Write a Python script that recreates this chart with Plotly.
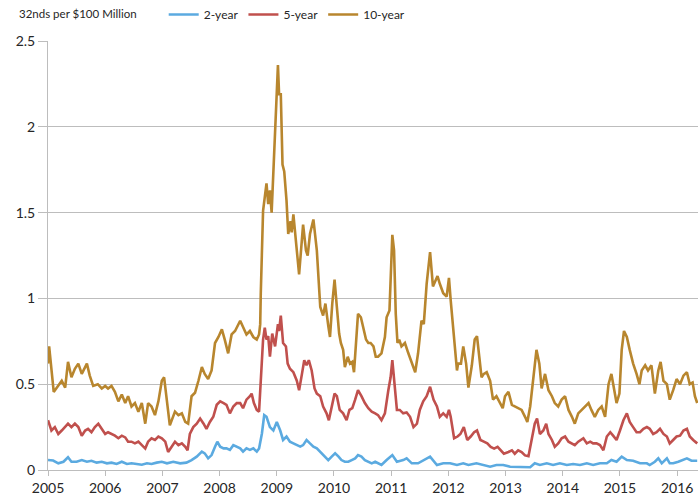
import plotly.graph_objects as go

# ---- data (decimal years, value in 32nds per $100 million) ----
t2 = [2005.00, 2005.09, 2005.18, 2005.27, 2005.35, 2005.41, 2005.50, 2005.59, 2005.68, 2005.76,
      2005.85, 2005.94, 2006.03, 2006.11, 2006.20, 2006.29, 2006.38, 2006.46, 2006.55, 2006.64,
      2006.73, 2006.81, 2006.90, 2006.99, 2007.08, 2007.19, 2007.31, 2007.42, 2007.51, 2007.60,
      2007.69, 2007.74, 2007.80, 2007.86, 2007.92, 2007.96, 2008.01, 2008.07, 2008.12, 2008.18,
      2008.24, 2008.30, 2008.36, 2008.41, 2008.47, 2008.53, 2008.59, 2008.65, 2008.69, 2008.74,
      2008.78, 2008.82, 2008.88, 2008.94, 2009.00, 2009.06, 2009.11, 2009.17, 2009.23, 2009.29,
      2009.35, 2009.41, 2009.46, 2009.52, 2009.58, 2009.64, 2009.70, 2009.73, 2009.78, 2009.84,
      2009.90, 2009.96, 2010.02, 2010.08, 2010.13, 2010.19, 2010.25, 2010.31, 2010.37, 2010.42,
      2010.48, 2010.54, 2010.60, 2010.66, 2010.72, 2010.77, 2010.83, 2010.92, 2011.02, 2011.10,
      2011.21, 2011.27, 2011.36, 2011.47, 2011.56, 2011.68, 2011.80, 2011.91, 2012.03, 2012.15,
      2012.26, 2012.35, 2012.49, 2012.61, 2012.73, 2012.84, 2012.96, 2013.08, 2013.19, 2013.31,
      2013.43, 2013.51, 2013.60, 2013.72, 2013.83, 2013.95, 2014.07, 2014.18, 2014.30, 2014.42,
      2014.53, 2014.65, 2014.77, 2014.85, 2014.94, 2015.03, 2015.12, 2015.23, 2015.35, 2015.47,
      2015.52, 2015.61, 2015.67, 2015.73, 2015.82, 2015.87, 2015.93, 2016.02, 2016.11, 2016.17,
      2016.25, 2016.35]
v2 = [0.058, 0.055, 0.039, 0.048, 0.074, 0.048, 0.048, 0.058, 0.048, 0.054,
      0.043, 0.048, 0.039, 0.043, 0.035, 0.048, 0.035, 0.039, 0.035, 0.031,
      0.039, 0.035, 0.043, 0.048, 0.039, 0.048, 0.039, 0.043, 0.058, 0.078,
      0.107, 0.097, 0.068, 0.087, 0.136, 0.165, 0.136, 0.126, 0.126, 0.117,
      0.145, 0.136, 0.126, 0.107, 0.126, 0.117, 0.126, 0.107, 0.126, 0.213,
      0.320, 0.310, 0.250, 0.230, 0.280, 0.230, 0.175, 0.195, 0.165, 0.155,
      0.145, 0.136, 0.145, 0.175, 0.155, 0.136, 0.126, 0.116, 0.097, 0.078,
      0.058, 0.078, 0.097, 0.078, 0.058, 0.048, 0.048, 0.058, 0.068, 0.087,
      0.078, 0.058, 0.048, 0.039, 0.048, 0.039, 0.029, 0.058, 0.087, 0.048,
      0.058, 0.068, 0.039, 0.039, 0.054, 0.078, 0.029, 0.039, 0.039, 0.029,
      0.039, 0.029, 0.039, 0.029, 0.019, 0.029, 0.029, 0.019, 0.019, 0.019,
      0.016, 0.039, 0.029, 0.039, 0.029, 0.039, 0.029, 0.035, 0.029, 0.039,
      0.029, 0.039, 0.039, 0.058, 0.048, 0.078, 0.058, 0.054, 0.039, 0.039,
      0.029, 0.048, 0.068, 0.039, 0.068, 0.039, 0.039, 0.048, 0.058, 0.068,
      0.054, 0.054]

t5 = [2005.00, 2005.06, 2005.12, 2005.18, 2005.24, 2005.30, 2005.35, 2005.41, 2005.47, 2005.53,
      2005.59, 2005.65, 2005.70, 2005.76, 2005.82, 2005.88, 2005.94, 2006.00, 2006.05, 2006.11,
      2006.17, 2006.23, 2006.29, 2006.35, 2006.40, 2006.46, 2006.52, 2006.58, 2006.64, 2006.70,
      2006.75, 2006.81, 2006.87, 2006.93, 2006.99, 2007.05, 2007.10, 2007.16, 2007.22, 2007.28,
      2007.34, 2007.40, 2007.44, 2007.48, 2007.54, 2007.60, 2007.66, 2007.72, 2007.77, 2007.83,
      2007.89, 2007.95, 2008.01, 2008.07, 2008.12, 2008.18, 2008.24, 2008.30, 2008.36, 2008.41,
      2008.47, 2008.53, 2008.56, 2008.60, 2008.65, 2008.69, 2008.72, 2008.76, 2008.79, 2008.82,
      2008.85, 2008.88, 2008.92, 2008.97, 2009.02, 2009.04, 2009.07, 2009.11, 2009.16, 2009.19,
      2009.23, 2009.29, 2009.35, 2009.39, 2009.44, 2009.48, 2009.52, 2009.56, 2009.61, 2009.66,
      2009.70, 2009.76, 2009.81, 2009.87, 2009.91, 2009.96, 2010.01, 2010.05, 2010.10, 2010.16,
      2010.22, 2010.27, 2010.32, 2010.37, 2010.42, 2010.48, 2010.54, 2010.60, 2010.66, 2010.72,
      2010.77, 2010.83, 2010.89, 2010.95, 2010.99, 2011.02, 2011.05, 2011.10, 2011.15, 2011.21,
      2011.27, 2011.33, 2011.39, 2011.45, 2011.50, 2011.56, 2011.62, 2011.68, 2011.74, 2011.80,
      2011.85, 2011.91, 2011.97, 2012.01, 2012.04, 2012.10, 2012.16, 2012.21, 2012.27, 2012.33,
      2012.39, 2012.45, 2012.50, 2012.56, 2012.62, 2012.68, 2012.74, 2012.80, 2012.86, 2012.91,
      2012.97, 2013.05, 2013.11, 2013.16, 2013.22, 2013.28, 2013.34, 2013.40, 2013.46, 2013.51,
      2013.55, 2013.60, 2013.66, 2013.71, 2013.75, 2013.81, 2013.86, 2013.92, 2013.98, 2014.04,
      2014.10, 2014.16, 2014.21, 2014.27, 2014.36, 2014.42, 2014.48, 2014.53, 2014.59, 2014.65,
      2014.71, 2014.77, 2014.83, 2014.88, 2014.94, 2015.00, 2015.06, 2015.12, 2015.17, 2015.23,
      2015.29, 2015.35, 2015.41, 2015.47, 2015.52, 2015.58, 2015.64, 2015.70, 2015.76, 2015.82,
      2015.87, 2015.93, 2015.99, 2016.05, 2016.11, 2016.17, 2016.22, 2016.28, 2016.35]
v5 = [0.29, 0.23, 0.25, 0.21, 0.23, 0.25, 0.27, 0.25, 0.27, 0.25,
      0.20, 0.23, 0.24, 0.22, 0.25, 0.27, 0.24, 0.21, 0.22, 0.21,
      0.20, 0.185, 0.20, 0.19, 0.165, 0.165, 0.155, 0.165, 0.145, 0.125,
      0.165, 0.185, 0.175, 0.195, 0.185, 0.165, 0.105, 0.135, 0.165, 0.145,
      0.155, 0.135, 0.115, 0.21, 0.25, 0.27, 0.30, 0.27, 0.24, 0.28,
      0.31, 0.38, 0.40, 0.39, 0.38, 0.33, 0.37, 0.39, 0.39, 0.36,
      0.41, 0.43, 0.445, 0.39, 0.35, 0.34, 0.56, 0.76, 0.83, 0.76,
      0.78, 0.66, 0.795, 0.72, 0.85, 0.81, 0.90, 0.74, 0.72, 0.62,
      0.59, 0.57, 0.52, 0.465, 0.56, 0.64, 0.61, 0.64, 0.58, 0.475,
      0.445, 0.43, 0.37, 0.33, 0.29, 0.37, 0.445, 0.43, 0.35, 0.33,
      0.29, 0.35, 0.36, 0.41, 0.465, 0.43, 0.39, 0.36, 0.34, 0.33,
      0.32, 0.29, 0.33, 0.465, 0.54, 0.64, 0.54, 0.35, 0.35, 0.33,
      0.335, 0.31, 0.25, 0.27, 0.35, 0.40, 0.43, 0.485, 0.41, 0.37,
      0.31, 0.33, 0.31, 0.35, 0.31, 0.185, 0.195, 0.21, 0.25, 0.175,
      0.195, 0.22, 0.23, 0.175, 0.165, 0.155, 0.135, 0.125, 0.135, 0.115,
      0.095, 0.105, 0.115, 0.095, 0.115, 0.105, 0.085, 0.08, 0.175, 0.27,
      0.30, 0.21, 0.23, 0.27, 0.21, 0.175, 0.135, 0.155, 0.185, 0.195,
      0.165, 0.155, 0.145, 0.165, 0.185, 0.155, 0.165, 0.155, 0.155, 0.145,
      0.115, 0.195, 0.22, 0.20, 0.175, 0.23, 0.29, 0.33, 0.28, 0.25,
      0.22, 0.22, 0.24, 0.25, 0.24, 0.21, 0.22, 0.24, 0.21, 0.195,
      0.155, 0.175, 0.195, 0.20, 0.23, 0.24, 0.195, 0.175, 0.155]

t10 = [2005.00, 2005.02, 2005.10, 2005.18, 2005.24, 2005.30, 2005.35, 2005.41, 2005.47, 2005.53,
       2005.59, 2005.68, 2005.73, 2005.79, 2005.87, 2005.94, 2006.00, 2006.05, 2006.11, 2006.17,
       2006.23, 2006.29, 2006.35, 2006.40, 2006.46, 2006.52, 2006.58, 2006.64, 2006.70, 2006.75,
       2006.81, 2006.87, 2006.93, 2006.99, 2007.03, 2007.13, 2007.22, 2007.28, 2007.34, 2007.40,
       2007.45, 2007.51, 2007.57, 2007.63, 2007.69, 2007.74, 2007.80, 2007.86, 2007.92, 2007.98,
       2008.04, 2008.09, 2008.15, 2008.21, 2008.27, 2008.36, 2008.41, 2008.47, 2008.53, 2008.59,
       2008.65, 2008.69, 2008.71, 2008.72, 2008.76, 2008.79, 2008.82, 2008.85, 2008.88, 2008.91,
       2008.94, 2008.97, 2009.00, 2009.02, 2009.04, 2009.07, 2009.10, 2009.13, 2009.17, 2009.20,
       2009.24, 2009.26, 2009.29, 2009.32, 2009.35, 2009.39, 2009.42, 2009.46, 2009.51, 2009.54,
       2009.58, 2009.64, 2009.70, 2009.76, 2009.81, 2009.85, 2009.90, 2009.93, 2009.97, 2010.01,
       2010.05, 2010.09, 2010.12, 2010.16, 2010.19, 2010.24, 2010.28, 2010.32, 2010.35, 2010.38,
       2010.42, 2010.47, 2010.51, 2010.56, 2010.60, 2010.64, 2010.69, 2010.73, 2010.77, 2010.83,
       2010.89, 2010.92, 2010.97, 2010.99, 2011.02, 2011.05, 2011.08, 2011.11, 2011.14, 2011.18,
       2011.24, 2011.30, 2011.36, 2011.42, 2011.47, 2011.53, 2011.57, 2011.62, 2011.68, 2011.73,
       2011.77, 2011.81, 2011.85, 2011.91, 2011.97, 2012.01, 2012.04, 2012.09, 2012.12, 2012.15,
       2012.17, 2012.22, 2012.26, 2012.31, 2012.35, 2012.41, 2012.46, 2012.50, 2012.54, 2012.58,
       2012.62, 2012.67, 2012.73, 2012.78, 2012.84, 2012.90, 2012.95, 2012.99, 2013.05, 2013.11,
       2013.16, 2013.22, 2013.28, 2013.34, 2013.38, 2013.43, 2013.48, 2013.54, 2013.59, 2013.63,
       2013.69, 2013.75, 2013.81, 2013.86, 2013.92, 2013.98, 2014.04, 2014.10, 2014.16, 2014.21,
       2014.27, 2014.33, 2014.39, 2014.45, 2014.50, 2014.56, 2014.62, 2014.68, 2014.74, 2014.80,
       2014.85, 2014.90, 2014.94, 2014.99, 2015.03, 2015.07, 2015.12, 2015.17, 2015.23, 2015.29,
       2015.34, 2015.38, 2015.44, 2015.49, 2015.55, 2015.61, 2015.67, 2015.71, 2015.76, 2015.82,
       2015.87, 2015.93, 2015.99, 2016.05, 2016.11, 2016.17, 2016.22, 2016.27, 2016.31, 2016.35]
v10 = [0.62, 0.72, 0.455, 0.49, 0.52, 0.48, 0.63, 0.54, 0.59, 0.62,
       0.56, 0.62, 0.55, 0.49, 0.50, 0.475, 0.49, 0.475, 0.49, 0.455,
       0.40, 0.44, 0.39, 0.43, 0.37, 0.39, 0.34, 0.39, 0.27, 0.39,
       0.37, 0.32, 0.40, 0.52, 0.54, 0.26, 0.34, 0.32, 0.33, 0.28,
       0.27, 0.43, 0.45, 0.52, 0.60, 0.56, 0.53, 0.58, 0.74, 0.775,
       0.82, 0.76, 0.68, 0.79, 0.81, 0.87, 0.83, 0.79, 0.81, 0.775,
       0.76, 0.79, 0.85, 1.03, 1.51, 1.59, 1.67, 1.55, 1.63, 1.50,
       1.76, 2.00, 2.21, 2.36, 2.19, 2.19, 1.78, 1.74, 1.57, 1.375,
       1.45, 1.385, 1.49, 1.36, 1.28, 1.14, 1.28, 1.43, 1.28, 1.25,
       1.375, 1.46, 1.28, 0.95, 0.90, 0.97, 0.84, 0.775, 0.97, 1.11,
       0.95, 0.795, 0.74, 0.70, 0.60, 0.66, 0.62, 0.63, 0.57, 0.74,
       0.91, 0.89, 0.83, 0.76, 0.74, 0.74, 0.72, 0.66, 0.66, 0.68,
       0.775, 0.89, 0.93, 1.14, 1.37, 1.28, 0.91, 0.74, 0.76, 0.72,
       0.74, 0.68, 0.62, 0.57, 0.68, 0.87, 0.85, 1.085, 1.27, 1.07,
       1.10, 1.13, 1.085, 1.03, 1.01, 1.12, 0.99, 0.81, 0.68, 0.58,
       0.62, 0.62, 0.72, 0.62, 0.48, 0.61, 0.76, 0.78, 0.66, 0.54,
       0.56, 0.57, 0.52, 0.41, 0.43, 0.39, 0.36, 0.43, 0.455, 0.38,
       0.37, 0.36, 0.35, 0.31, 0.28, 0.37, 0.54, 0.70, 0.62, 0.475,
       0.56, 0.465, 0.43, 0.39, 0.37, 0.41, 0.43, 0.35, 0.31, 0.27,
       0.33, 0.35, 0.37, 0.39, 0.35, 0.31, 0.35, 0.37, 0.31, 0.50,
       0.56, 0.465, 0.39, 0.445, 0.70, 0.81, 0.775, 0.70, 0.62, 0.56,
       0.50, 0.58, 0.61, 0.58, 0.61, 0.445, 0.58, 0.63, 0.52, 0.50,
       0.41, 0.465, 0.53, 0.50, 0.55, 0.57, 0.50, 0.51, 0.43, 0.39]

series_names = ["2-year", "5-year", "10-year"]
series_colors = ["#5BAAE0", "#C0504D", "#B8862E"]
year_ticks = list(range(2005, 2017))
y_ticks = [0, 0.5, 1, 1.5, 2, 2.5]
y_tick_text = ["0", "0.5", "1", "1.5", "2", "2.5"]
units_label = "32nds per $100 Million"

FONT = "Lato, 'Open Sans', sans-serif"
TEXT = "#262626"
GRID = "#BDBDBD"

fig = go.Figure()
for name, col, xs, ys in zip(series_names, series_colors, [t2, t5, t10], [v2, v5, v10]):
    fig.add_trace(go.Scatter(x=xs, y=ys, name=name, mode="lines",
                             line=dict(color=col, width=2.6)))

fig.update_layout(
    width=698, height=504,
    margin=dict(l=48, r=0, t=40, b=34),
    paper_bgcolor="white", plot_bgcolor="white",
    font=dict(family=FONT, size=14, color=TEXT),
    showlegend=True,
    legend=dict(orientation="h", x=0.178, xanchor="left", y=1.063, yanchor="middle",
                font=dict(family=FONT, size=12, color=TEXT),
                itemwidth=30, tracegroupgap=0, bgcolor="rgba(0,0,0,0)"),
    annotations=[dict(text=units_label, xref="paper", yref="paper",
                      x=-0.047, y=1.063, xanchor="left", yanchor="middle",
                      showarrow=False, font=dict(family=FONT, size=11.5, color=TEXT))],
)
fig.update_xaxes(range=[2005, 2016.364], tickmode="array", tickvals=year_ticks,
                 ticktext=[str(y) for y in year_ticks], showgrid=False, zeroline=False,
                 showline=True, linecolor=GRID, linewidth=1,
                 ticks="outside", ticklen=5, tickcolor=GRID,
                 tickfont=dict(family=FONT, size=14, color=TEXT))
fig.update_yaxes(range=[0, 2.5], tickmode="array", tickvals=y_ticks, ticktext=y_tick_text,
                 showgrid=True, gridcolor=GRID, gridwidth=1, zeroline=False,
                 showline=True, linecolor=GRID, linewidth=1,
                 ticks="outside", ticklen=9, tickcolor=GRID,
                 tickfont=dict(family=FONT, size=14, color=TEXT))

fig.write_html("out.html", config={"displayModeBar": False},
               post_script="document.body.style.margin='0';document.body.style.overflow='hidden';")
